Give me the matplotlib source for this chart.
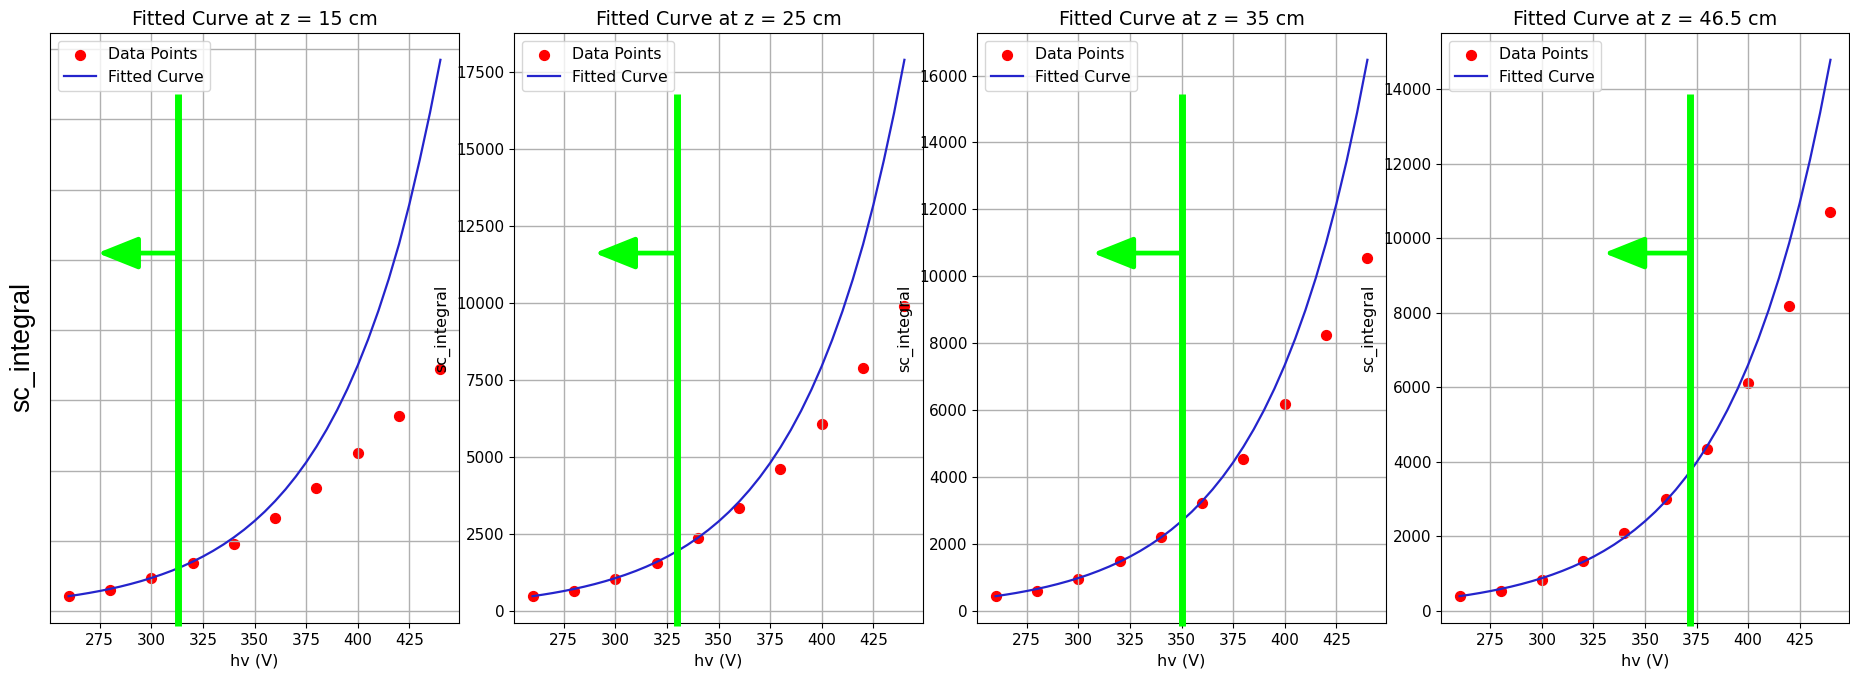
import matplotlib
matplotlib.use('Agg')
import matplotlib.pyplot as plt

hv = [260, 280, 300, 320, 340, 360, 380, 400, 420, 440]
hv_fit = [260, 265, 270, 275, 280, 285, 290, 295, 300, 305, 310, 315, 320,
          325, 330, 335, 340, 345, 350, 355, 360, 365, 370, 375, 380, 385,
          390, 395, 400, 405, 410, 415, 420, 425, 430, 435, 440]
z_values = ['15', '25', '35', '46.5']

pts_15 = [430, 610, 935, 1360, 1905, 2640, 3505, 4495, 5560, 6885]
pts_25 = [490, 650, 1030, 1555, 2355, 3335, 4595, 6075, 7880, 9910]
pts_35 = [450, 600, 950, 1475, 2195, 3215, 4540, 6190, 8250, 10550]
pts_46 = [405, 540, 825, 1325, 2090, 3000, 4345, 6120, 8190, 10700]

# fitted curves, read every 5 V
fit_15 = [420, 464, 513, 567, 627, 693, 767, 848, 938, 1037, 1146, 1267, 1401,
          1549, 1713, 1894, 2095, 2316, 2561, 2831, 3131, 3462, 3828, 4232,
          4680, 5175, 5722, 6327, 6996, 7735, 8553, 9457, 10457, 11592, 12850,
          14204, 15700]
fit_25 = [470, 520, 575, 636, 704, 779, 862, 954, 1055, 1167, 1291, 1428, 1580,
          1748, 1933, 2139, 2366, 2618, 2896, 3204, 3544, 3921, 4337, 4798,
          5307, 5871, 6495, 7185, 7949, 8794, 9728, 10762, 11905, 13193, 14620,
          16177, 17900]
fit_35 = [435, 481, 532, 589, 651, 720, 797, 882, 975, 1079, 1194, 1321, 1461,
          1616, 1787, 1977, 2187, 2420, 2677, 2961, 3276, 3624, 4008, 4434,
          4905, 5426, 6003, 6641, 7346, 8126, 8989, 9944, 11000, 12168, 13461,
          14890, 16470]
fit_46 = [390, 431, 477, 528, 584, 646, 715, 791, 875, 968, 1071, 1185, 1311,
          1450, 1604, 1774, 1963, 2171, 2402, 2657, 2940, 3252, 3598, 3980,
          4403, 4871, 5389, 5962, 6595, 7296, 8071, 8928, 9877, 10927, 12088,
          13371, 14790]

points = [pts_15, pts_25, pts_35, pts_46]
fits = [fit_15, fit_25, fit_35, fit_46]

# green markers drawn over the screenshots (hv cut and arrow tip)
cut_hv = [313, 330, 350, 372]
arrow_tip_hv = [274, 290, 307, 330]

W, H = 1850, 673
fig = plt.figure(figsize=(W / 100, H / 100), dpi=100)

lefts = [50, 514, 977, 1441]
widths = [409, 409, 409, 408]
top, bottom = 33, 623

for i in range(4):
    ax = fig.add_axes([lefts[i] / W, (H - bottom) / H, widths[i] / W, (bottom - top) / H])
    ax.scatter(hv, points[i], color='red', s=50, label='Data Points')
    ax.plot(hv_fit, fits[i], color='#2424cc', lw=1.6, label='Fitted Curve')
    ax.set_title('Fitted Curve at z = ' + z_values[i] + ' cm', fontsize=13.8)
    ax.set_xlabel('hv (V)', fontsize=11.5)
    ax.set_xticks([275, 300, 325, 350, 375, 400, 425])
    ax.tick_params(labelsize=11)
    ax.grid(True, lw=1.0)
    ax.legend(loc='upper left', fontsize=11.3)
    if i == 0:
        ax.tick_params(axis='y', left=False, labelleft=False)
    else:
        ax.set_ylabel('sc_integral', fontsize=11.5)

    trans = ax.get_xaxis_transform()
    ax.plot([cut_hv[i], cut_hv[i]], [-0.005, 0.897], color='#00ff00', lw=5,
            transform=trans, clip_on=False, zorder=10, solid_capstyle='butt')
    ax.annotate('', xy=(arrow_tip_hv[i], 0.627), xytext=(cut_hv[i], 0.627),
                xycoords=trans, textcoords=trans, annotation_clip=False,
                arrowprops=dict(arrowstyle='-|>,head_length=1.25,head_width=0.5',
                                color='#00ff00', lw=3.4, mutation_scale=20,
                                shrinkA=0, shrinkB=0),
                zorder=10)

fig.text(22 / W, 1 - 347 / H, 'sc_integral', rotation=90, ha='center', va='center',
         fontsize=19.4, family='Liberation Sans')

fig.savefig('out.png', dpi=100)
